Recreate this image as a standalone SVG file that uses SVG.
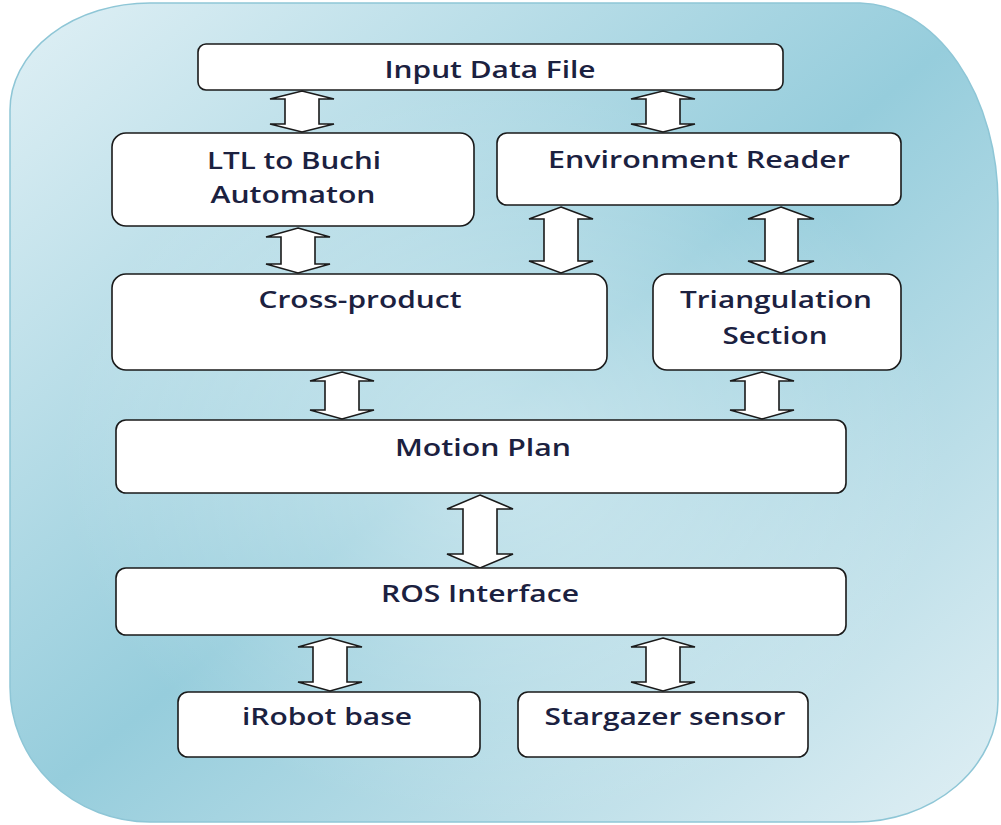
<svg xmlns="http://www.w3.org/2000/svg" width="1001" height="825" viewBox="0 0 1001 825">
<defs>
<linearGradient id="bg" x1="0" y1="0" x2="1" y2="1">
<stop offset="0" stop-color="#e0f0f5"/>
<stop offset="0.5" stop-color="#96cddc"/>
<stop offset="1" stop-color="#e0eff4"/>
</linearGradient>
<radialGradient id="glow" cx="0.5" cy="0.55" r="0.45">
<stop offset="0" stop-color="#ffffff" stop-opacity="0.45"/>
<stop offset="1" stop-color="#ffffff" stop-opacity="0"/>
</radialGradient>
</defs>
<style>
.box{fill:#ffffff;stroke:#1a1a1a;stroke-width:1.6}
.arr{fill:#ffffff;stroke:#1a1a1a;stroke-width:1.6;stroke-linejoin:miter}
.t{font-family:"Open Sans","Liberation Sans",sans-serif;font-size:24px;font-weight:600;fill:#1b2140;text-anchor:middle}
</style>
<g id="background">
<path d="M150,3 H860 A140,200 0 0 1 998,203 V700 A143,122 0 0 1 855,822 H150 A140,135 0 0 1 10,687 V110 A140,107 0 0 1 150,3 Z" fill="url(#bg)" stroke="#8ec6d6" stroke-width="1.5"/>
<path d="M150,3 H860 A140,200 0 0 1 998,203 V700 A143,122 0 0 1 855,822 H150 A140,135 0 0 1 10,687 V110 A140,107 0 0 1 150,3 Z" fill="url(#glow)"/>
</g>
<g id="connectors">
<path class="arr" d="M302,91 L334,99 L319,99 L319,124 L334,124 L302,132 L270,124 L285,124 L285,99 L270,99 Z"/>
<path class="arr" d="M663,91 L695,99 L680,99 L680,124 L695,124 L663,132 L631,124 L646,124 L646,99 L631,99 Z"/>
<path class="arr" d="M298,228 L330,237 L315,237 L315,264 L330,264 L298,273 L266,264 L281,264 L281,237 L266,237 Z"/>
<path class="arr" d="M561,207 L593,219 L578,219 L578,261 L593,261 L561,273 L529,261 L544,261 L544,219 L529,219 Z"/>
<path class="arr" d="M781,207 L814,219 L798,219 L798,261 L814,261 L781,273 L748,261 L765,261 L765,219 L748,219 Z"/>
<path class="arr" d="M342,372 L374,381 L359,381 L359,410 L374,410 L342,419 L310,410 L325,410 L325,381 L310,381 Z"/>
<path class="arr" d="M762,372 L794,381 L779,381 L779,410 L794,410 L762,419 L730,410 L745,410 L745,381 L730,381 Z"/>
<path class="arr" d="M480,495 L513,509 L497,509 L497,554 L513,554 L480,568 L447,554 L463,554 L463,509 L447,509 Z"/>
<path class="arr" d="M330,638 L362,647 L347,647 L347,682 L362,682 L330,691 L298,682 L313,682 L313,647 L298,647 Z"/>
<path class="arr" d="M663,638 L695,647 L680,647 L680,682 L695,682 L663,691 L631,682 L646,682 L646,647 L631,647 Z"/>
</g>
<g id="input"><rect class="box" x="198" y="44" width="585" height="46" rx="8"/><text class="t" x="490" y="78" textLength="211" lengthAdjust="spacingAndGlyphs">Input Data File</text></g>
<g id="ltl"><rect class="box" x="112" y="133" width="362" height="93" rx="14"/><text class="t" x="294" y="169" textLength="174" lengthAdjust="spacingAndGlyphs">LTL to Buchi</text><text class="t" x="293" y="203" textLength="165" lengthAdjust="spacingAndGlyphs">Automaton</text></g>
<g id="env"><rect class="box" x="497" y="133" width="404" height="72" rx="10"/><text class="t" x="699" y="168" textLength="302" lengthAdjust="spacingAndGlyphs">Environment Reader</text></g>
<g id="cross"><rect class="box" x="112" y="274" width="495" height="96" rx="14"/><text class="t" x="360" y="308" textLength="203" lengthAdjust="spacingAndGlyphs">Cross-product</text></g>
<g id="tri"><rect class="box" x="653" y="274" width="248" height="96" rx="14"/><text class="t" x="776" y="308" textLength="192" lengthAdjust="spacingAndGlyphs">Triangulation</text><text class="t" x="775" y="344" textLength="105" lengthAdjust="spacingAndGlyphs">Section</text></g>
<g id="motion"><rect class="box" x="116" y="420" width="730" height="73" rx="10"/><text class="t" x="483" y="456" textLength="176" lengthAdjust="spacingAndGlyphs">Motion Plan</text></g>
<g id="ros"><rect class="box" x="116" y="568" width="730" height="67" rx="10"/><text class="t" x="480" y="602" textLength="198" lengthAdjust="spacingAndGlyphs">ROS Interface</text></g>
<g id="irobot"><rect class="box" x="178" y="692" width="302" height="65" rx="10"/><text class="t" x="327" y="725" textLength="170" lengthAdjust="spacingAndGlyphs">iRobot base</text></g>
<g id="stargazer"><rect class="box" x="518" y="692" width="290" height="65" rx="10"/><text class="t" x="665" y="725" textLength="241" lengthAdjust="spacingAndGlyphs">Stargazer sensor</text></g>
</svg>
